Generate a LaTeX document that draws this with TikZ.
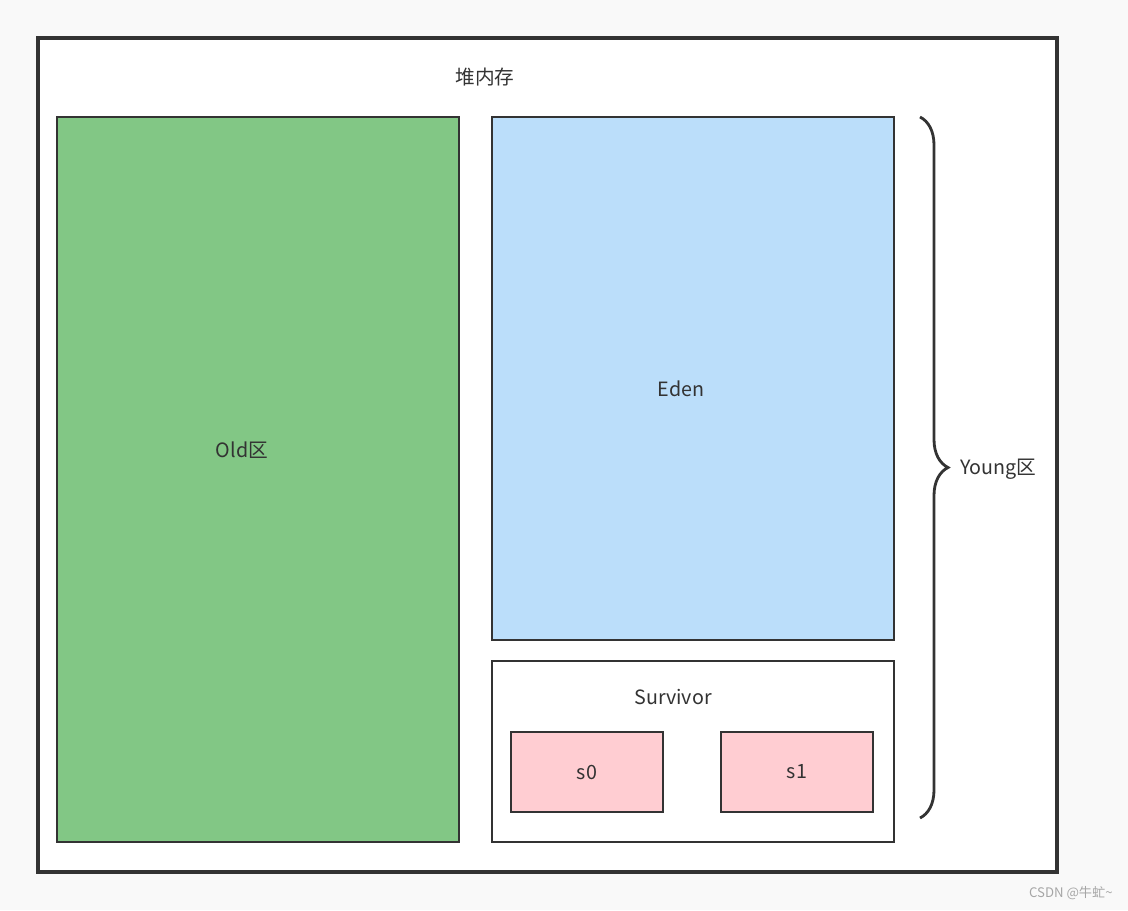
\documentclass[tikz,border=0pt]{standalone}
\usepackage{fontspec}
\setmainfont{Noto Sans CJK SC}
\usetikzlibrary{decorations.pathreplacing}

\definecolor{edgegray}{HTML}{333333}
\definecolor{oldgreen}{HTML}{82C785}
\definecolor{edenblue}{HTML}{BBDEFA}
\definecolor{survpink}{HTML}{FFCDD2}
\definecolor{pagebg}{HTML}{F9F9F9}

\tikzset{
  region/.style={draw=edgegray, line width=1.6pt, rectangle, inner sep=0pt,
    font=\fontsize{11.2}{13}\selectfont, text=edgegray},
  tag/.style={font=\fontsize{11.2}{13}\selectfont, text=edgegray, inner sep=1pt},
}

\begin{document}
\begin{tikzpicture}[x=0.02cm,y=-0.02cm]
  \fill[pagebg] (0,0) rectangle (1128,910);
  \useasboundingbox (0,0) rectangle (1128,910);

  \node[region, line width=1.9pt, fill=white, minimum width=20.38cm, minimum height=16.68cm] (heap) at (547.5,455) {};
  \node[tag] (heaplabel) at (485,77) {堆内存};

  \node[region, fill=oldgreen, minimum width=8.04cm, minimum height=14.5cm] (old) at (258,479.5) {};
  \node[tag] (oldlabel) at (242,450) {Old区};
  \node[region, fill=edenblue, minimum width=8.04cm, minimum height=10.46cm] (eden) at (693,378.5) {};
  \node[tag] (edenlabel) at (681,389) {Eden};
  \node[region, fill=white, minimum width=8.04cm, minimum height=3.62cm] (surv) at (693,751.5) {};
  \node[tag] (survlabel) at (673,697) {Survivor};

  \node[region, fill=survpink, minimum width=3.04cm, minimum height=1.6cm] (s0) at (587,772) {s0};
  \node[region, fill=survpink, minimum width=3.04cm, minimum height=1.6cm] (s1) at (797,772) {s1};

  % brace around the young generation
  \coordinate (ytop) at (920,117);
  \coordinate (ybot) at (920,818);
  \draw[edgegray, line width=1.6pt, decorate, decoration={brace, amplitude=0.56cm}] (ytop) -- (ybot);
  \node[tag, anchor=west] (young) at (958,469) {Young区};

  \node[anchor=east, text=gray!70, font=\fontsize{7.5}{9}\selectfont, inner sep=0pt] (mark) at (1113,893) {CSDN @牛虻\textasciitilde};
\end{tikzpicture}
\end{document}
